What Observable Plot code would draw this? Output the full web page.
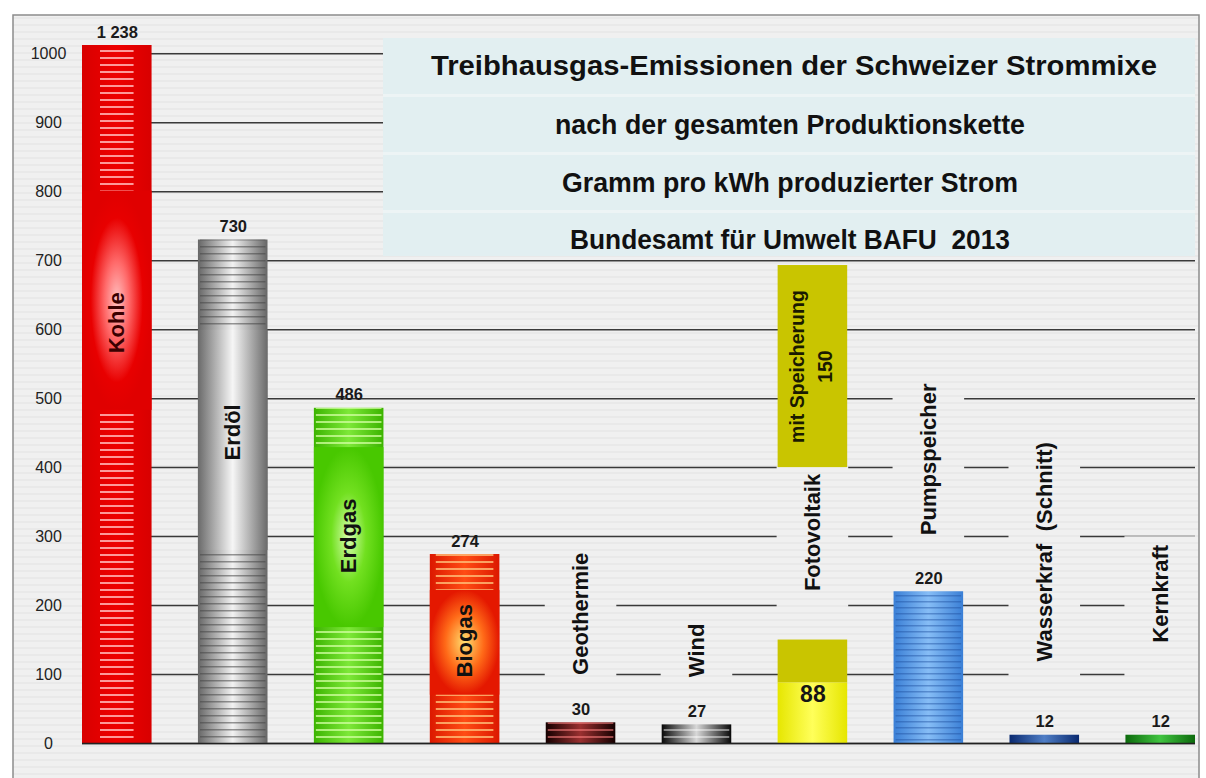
<!DOCTYPE html>
<html><head><meta charset="utf-8">
<script src="https://cdn.jsdelivr.net/npm/d3@7"></script>
<script src="https://cdn.jsdelivr.net/npm/@observablehq/plot@0.6"></script>
<style>
html,body{margin:0;padding:0;background:#fff;}
#chart{width:1206px;height:778px;overflow:hidden;}
</style></head><body><div id="chart"></div>
<script>
// ---------- data ----------
const categories = ["Kohle","Erdöl","Erdgas","Biogas","Geothermie","Wind","Fotovoltaik","Pumpspeicher","Wasserkraf  (Schnitt)","Kernkraft"];
const values = [1238, 730, 486, 274, 30, 27, 88, 220, 12, 12];
const valueLabels = ["1 238","730","486","274","30","27","88","220","12","12"];
const pvWithStorage = 150;
const storageLabel = ["mit Speicherung", "150"];
const yTicks = [0,100,200,300,400,500,600,700,800,900,1000];
const titleLines = [
  "Treibhausgas-Emissionen der Schweizer Strommixe",
  "nach der gesamten Produktionskette",
  "Gramm pro kWh produzierter Strom",
  "Bundesamt für Umwelt BAFU  2013"
];

// ---------- layout (positions in data units) ----------
const layout = {
  yMax: 1012,
  labelY: [610, 451, 301, 149, 188, 135, 306, 412, 278, 217],
  sections: [{i:0, y1:483, y2:801}, {i:1, y1:280, y2:599}, {i:2, y1:168, y2:429}, {i:3, y1:70, y2:222}],
  storageBox: [400, 693]
};

const rows = categories.map((cat, i) => ({cat, i, value: values[i], label: valueLabels[i]}));
const sectionRows = layout.sections.map(s => ({cat: categories[s.i], i: s.i, y1: s.y1, y2: s.y2}));
const pvTop = [{cat: categories[6], y1: values[6], y2: pvWithStorage}];
const storageRow = [{cat: categories[6], y1: layout.storageBox[0], y2: layout.storageBox[1], text: storageLabel.join("\n")}];
const show = s => s.replace(/  /g, " \u00a0");

const plot = Plot.plot({
  width: 1206, height: 778,
  marginLeft: 82, marginRight: 11, marginTop: 45, marginBottom: 35,
  style: {background: "transparent", fontFamily: "'Liberation Sans', Arial, sans-serif", color: "#1a1a1a", overflow: "visible"},
  x: {domain: categories, paddingInner: 0.4, paddingOuter: 0, round: false, axis: null},
  y: {domain: [0, layout.yMax], clamp: true, axis: null},
  color: {type: "identity"},
  marks: [
    Plot.ruleY(yTicks, {stroke: "#3a3a3a", strokeWidth: 1.5, ariaDescription: "grid"}),
    Plot.axisY({ticks: yTicks, tickSize: 0, tickPadding: 34, textAnchor: "middle", fontSize: 16, fill: "#222", tickFormat: d => String(d)}),
    Plot.text(rows.filter(d => d.i >= 4), {x: "cat", y: d => layout.labelY[d.i], text: d => show(d.cat), rotate: -90, fontSize: 22, fontWeight: "bold", fill: "#111", ariaDescription: "gaplabel"}),
    Plot.barY(rows, {x: "cat", y: "value", fill: d => `url(#bar${d.i})`}),
    Plot.barY(rows.filter(d => d.i === 0), {x: "cat", y: "value", fill: d => `url(#st${d.i})`, insetLeft: 18, insetRight: 18}),
    Plot.barY(rows.filter(d => d.i === 3), {x: "cat", y: "value", fill: d => `url(#st${d.i})`, insetLeft: 6, insetRight: 6}),
    Plot.barY(rows.filter(d => [1,2,4,5,7].includes(d.i)), {x: "cat", y: "value", fill: d => `url(#st${d.i})`, insetLeft: 2, insetRight: 2}),
    Plot.barY(sectionRows, {x: "cat", y1: "y1", y2: "y2", fill: d => `url(#sec${d.i})`}),
    Plot.text(rows.filter(d => d.i < 4), {x: "cat", y: d => layout.labelY[d.i], text: "cat", rotate: -90, fontSize: 22, fontWeight: "bold", fill: d => d.i === 0 ? "#3a0000" : "#111"}),
    Plot.barY(pvTop, {x: "cat", y1: "y1", y2: "y2", fill: "#c9c500"}),
    Plot.text(rows.filter(d => d.i === 6), {x: "cat", y: "value", text: "label", lineAnchor: "top", dy: 3, fontSize: 23, fontWeight: "bold", fill: "#151515"}),
    Plot.barY(storageRow, {x: "cat", y1: "y1", y2: "y2", fill: "#c9c500"}),
    Plot.text(storageRow, {x: "cat", y: d => (d.y1 + d.y2) / 2, text: "text", rotate: -90, fontSize: 19.5, fontWeight: "bold", lineHeight: 1.45, dx: -4, fill: "#1a1a00"}),
    Plot.text(rows.filter(d => d.i !== 6), {x: "cat", y: "value", text: "label", lineAnchor: "bottom", dy: -8, fontSize: 16.5, fontWeight: "bold", fill: "#1a1a1a"}),
    Plot.ruleY([0], {stroke: "#222", strokeWidth: 1.6})
  ]
});

document.getElementById("chart").appendChild(plot);

// ---------- decoration defs ----------
const svg = d3.select(plot);
const defs = svg.insert("defs", ":first-child");
function lin(id, stops) {
  const g = defs.append("linearGradient").attr("id", id).attr("x1", 0).attr("x2", 1).attr("y1", 0).attr("y2", 0);
  stops.forEach(([o, c]) => g.append("stop").attr("offset", o).attr("stop-color", c));
}
function rad(id, stops) {
  const g = defs.append("radialGradient").attr("id", id).attr("cx", 0.5).attr("cy", 0.5).attr("r", 0.5);
  stops.forEach(([o, c]) => g.append("stop").attr("offset", o).attr("stop-color", c));
}
function stripes(id, color, h = 7, t = 2) {
  const p = defs.append("pattern").attr("id", id).attr("patternUnits", "userSpaceOnUse").attr("width", 20).attr("height", h);
  p.append("rect").attr("x", 0).attr("y", 1).attr("width", 20).attr("height", t).attr("fill", color);
}
const barCols = [
  ["#d80000", "#ee0000", "#d80000"],
  ["#666666", "#f2f2f2", "#666666"],
  ["#3cb400", "#7de838", "#3cb400"],
  ["#dc1800", "#ff4c14", "#dc1800"],
  ["#140000", "#9a3030", "#140000"],
  ["#080808", "#d8d8d8", "#080808"],
  ["#e6e600", "#ffff5a", "#e6e600"],
  ["#3a7fd6", "#86bdf6", "#3a7fd6"],
  ["#0a2a70", "#4f7ec6", "#0a2a70"],
  ["#0c6a0c", "#40c440", "#0c6a0c"]
];
barCols.forEach((c, i) => lin(`bar${i}`, [[0, c[0]], [0.5, c[1]], [1, c[2]]]));
stripes("st0", "rgba(255,170,170,0.9)");
stripes("st1", "rgba(70,70,70,0.55)", 7, 1.5);
stripes("st2", "rgba(210,255,160,0.75)");
stripes("st3", "rgba(255,190,120,0.8)");
stripes("st4", "rgba(255,130,130,0.55)");
stripes("st5", "rgba(255,255,255,0.45)");
stripes("st7", "rgba(30,80,160,0.45)", 6, 1.5);
rad("sec0", [[0, "#ffc0c0"], [0.35, "#ff6a6a"], [0.75, "#e80000"], [1, "#e00000"]]);
lin("sec1", [[0, "#6a6a6a"], [0.5, "#f6f6f6"], [1, "#6a6a6a"]]);
rad("sec2", [[0, "#d8ffb0"], [0.5, "#72e020"], [1, "#48c800"]]);
rad("sec3", [[0, "#ffe070"], [0.55, "#ff6a18"], [1, "#e41800"]]);
const bg = defs.append("pattern").attr("id", "bgp").attr("patternUnits", "userSpaceOnUse").attr("width", 20).attr("height", 7);
bg.append("rect").attr("width", 20).attr("height", 7).attr("fill", "#f0f0f0");
bg.append("rect").attr("y", 3).attr("width", 20).attr("height", 2).attr("fill", "#e9e9e9");

// background frame
svg.insert("rect", "defs + *").attr("x", 13).attr("y", 15).attr("width", 1186).attr("height", 775)
  .attr("fill", "url(#bgp)").attr("stroke", "#8c8c8c").attr("stroke-width", 1.5);

// gaps in the gridlines behind the free-standing labels
const xs = plot.scale("x");
const sRect = plot.getBoundingClientRect();
const gridG = plot.querySelector('[aria-description="grid"]');
const gapG = document.createElementNS("http://www.w3.org/2000/svg", "g");
const gapRows = rows.filter(d => d.i >= 4);
plot.querySelectorAll('[aria-description="gaplabel"] text').forEach((t, k) => {
  const b = t.getBoundingClientRect();
  const d = gapRows[k];
  const r = document.createElementNS("http://www.w3.org/2000/svg", "rect");
  const x0 = xs.apply(d.cat);
  r.setAttribute("x", x0 - 1);
  r.setAttribute("width", xs.bandwidth + 2);
  r.setAttribute("y", b.top - sRect.top - 8);
  r.setAttribute("height", b.height + 44);
  r.setAttribute("fill", "url(#bgp)");
  gapG.appendChild(r);
});
if (gridG) gridG.parentNode.insertBefore(gapG, gridG.nextSibling);

// title box
const tb = svg.append("g");
tb.append("rect").attr("x", 383).attr("y", 38).attr("width", 812).attr("height", 218).attr("fill", "#e2eff1");
[95, 153, 211].forEach(y => tb.append("rect").attr("x", 383).attr("y", y - 1).attr("width", 812).attr("height", 3).attr("fill", "#edf4f5"));
const tY = [65, 124, 182, 239], tX = [794, 790, 790, 790], tW = [726, 470, 456, 440];
titleLines.forEach((s, k) => {
  tb.append("text").attr("x", tX[k]).attr("y", tY[k]).attr("dy", "0.36em").attr("text-anchor", "middle")
    .attr("font-family", "'Liberation Sans', Arial, sans-serif").attr("font-weight", "bold").attr("font-size", 27)
    .attr("fill", "#111").attr("textLength", tW[k]).attr("lengthAdjust", "spacingAndGlyphs")
    .style("white-space", "pre").text(s);
});
</script></body></html>
